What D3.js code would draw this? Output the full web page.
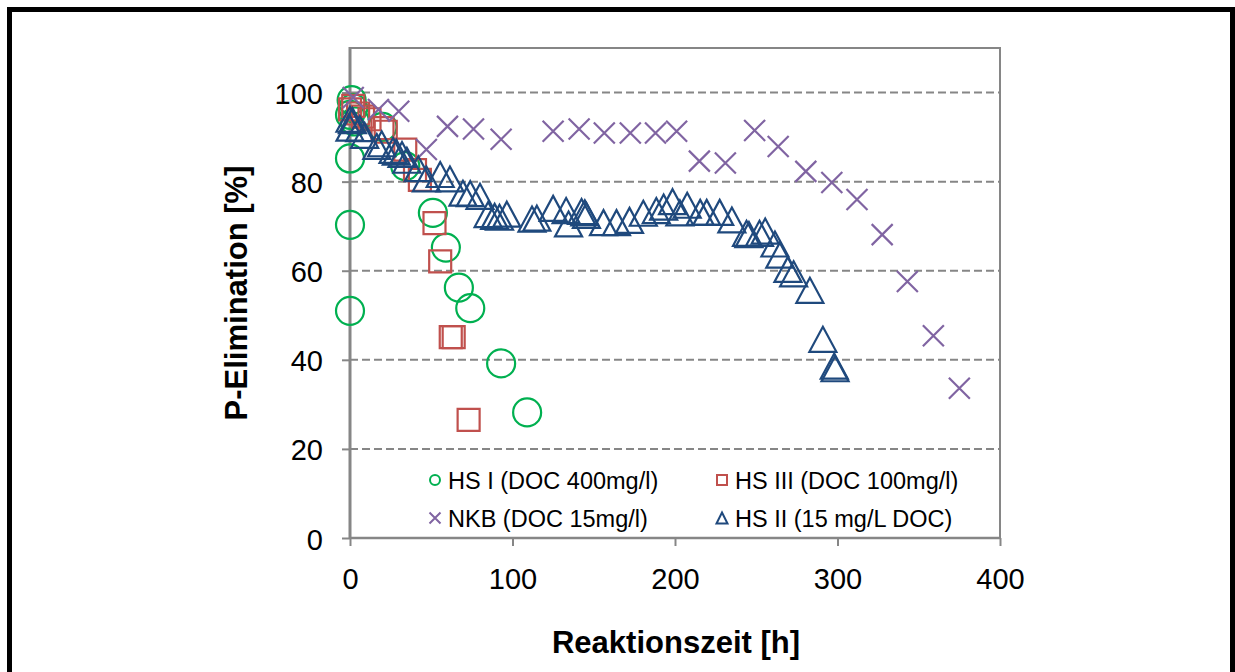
<!DOCTYPE html>
<html><head><meta charset="utf-8">
<script src="https://cdn.jsdelivr.net/npm/d3@7"></script>
<style>
html,body{margin:0;padding:0;background:#fff;}
svg{display:block;font-family:"Liberation Sans",Arial,sans-serif;}
</style></head>
<body>
<svg id="chart" width="1235" height="672"></svg>
<script>
// ---- data ----
const xTicks = [0, 100, 200, 300, 400];
const yTicks = [0, 20, 40, 60, 80, 100];
const xTitle = "Reaktionszeit [h]";
const yTitle = "P-Elimination [%]";
const seriesNames = ["HS I (DOC 400mg/l)", "HS III (DOC 100mg/l)", "NKB (DOC 15mg/l)", "HS II (15 mg/L DOC)"];

const hs1 = [[0,51],[0,70.3],[0,85.2],[0,95],[1,98.3],[2,96.5],[3,93.5],[20,92.3],[34,83.5],[51,73],[59,65.2],[67,56.2],[74,51.6],[93,39.2],[109,28.2]];
const hs3 = [[0,96.2],[2,97],[5,95.3],[8,94.6],[12,94],[20,92],[22,91.2],[34,87.2],[40,82.6],[43,80.4],[52,70.7],[55.5,62.1],[62,45.1],[63.8,45.1],[73,26.5]];
const nkb = [[2,98.9],[17.5,96.2],[30,95.8],[47,87.2],[60,92.4],[76,91.8],[93,89.5],[125,91.3],[141,91.8],[156.5,90.9],[172.5,90.9],[188,90.9],[201,91.3],[215,84.6],[231,84.2],[249,91.5],[263.5,87.9],[280.5,82.3],[296.5,79.8],[312,76],[327.5,68.1],[343,57.6],[359,45.4],[375,33.6]];
const hs2 = [[0,94],[0,92],[1.5,93.7],[6,91.9],[9,90.4],[16.5,87.9],[19.5,88.5],[26.5,87],[28.5,86.6],[32,86.1],[35,84.8],[42,82.9],[47,80.6],[55.5,81.6],[61.5,80.6],[69.5,77.4],[74,77.3],[80,76.7],[85,72.6],[89,72.2],[92,72],[96.5,72.7],[112,71.6],[115,71.8],[125,74],[133,73.5],[134.5,70.5],[142.5,73.3],[144.5,73],[145.5,72.4],[156,70.8],[164,70.8],[172,71.3],[180.5,72.9],[188.5,73.5],[193,74.3],[198.5,75.5],[203,73],[207.5,74.7],[215.5,73.1],[219.5,73.1],[227.5,73.1],[235,71.4],[244,68.4],[245.5,68.1],[252,68.4],[255.5,68.9],[261.5,66],[264.5,63.5],[269.5,60.3],[273,59.3],[283,55.6],[291,44.6],[298,38.6],[298.5,38]];

// ---- layout ----
const svg = d3.select("#chart");
const L = 350, R = 1000, T = 48, B = 538;
const x = d3.scaleLinear().domain([0, 400]).range([L, R]);
const y = d3.scaleLinear().domain([0, 110]).range([B, T]);
const gray = "#868686";
const colors = ["#00B050", "#C0504D", "#8064A2", "#1F497D"];

// outer frame
svg.append("rect").attr("x", 9.5).attr("y", 9.5).attr("width", 1223).attr("height", 720)
  .attr("fill", "none").attr("stroke", "#000").attr("stroke-width", 5);

// gridlines
svg.append("g").selectAll("line").data(yTicks.filter(d => d > 0)).join("line")
  .attr("x1", L).attr("x2", R).attr("y1", d => y(d)).attr("y2", d => y(d))
  .attr("stroke", gray).attr("stroke-width", 2).attr("stroke-dasharray", "8,4");

// plot border (top, right)
svg.append("path").attr("d", `M${L},${T}H${R}V${B}`).attr("fill", "none")
  .attr("stroke", gray).attr("stroke-width", 2);

// axes
const xAxis = svg.append("g").attr("transform", `translate(0,${B})`)
  .call(d3.axisBottom(x).tickValues(xTicks).tickSize(8).tickPadding(22).tickFormat(d3.format("d")));
const yAxis = svg.append("g").attr("transform", `translate(${L},0)`)
  .call(d3.axisLeft(y).tickValues(yTicks).tickSize(8).tickPadding(19).tickFormat(d3.format("d")));
[xAxis, yAxis].forEach(a => {
  a.select(".domain").remove();
  a.selectAll(".tick line").attr("stroke", gray).attr("stroke-width", 2);
  a.selectAll(".tick text").attr("fill", "#000").attr("font-size", 29)
    .attr("font-family", "'Liberation Sans', Arial, sans-serif");
});
yAxis.selectAll(".tick text").attr("dy", "0.38em");
xAxis.selectAll(".tick text").attr("dy", "0.72em");
svg.append("line").attr("x1", L).attr("x2", R).attr("y1", B).attr("y2", B).attr("stroke", gray).attr("stroke-width", 2.5);
svg.append("line").attr("x1", L).attr("x2", L).attr("y1", T - 1).attr("y2", B + 1).attr("stroke", gray).attr("stroke-width", 3);

// axis titles
svg.append("text").attr("x", 676).attr("y", 653).attr("text-anchor", "middle")
  .attr("font-size", 31).attr("font-weight", "bold").text(xTitle);
svg.append("text").attr("transform", `translate(247,${(T + B) / 2}) rotate(-90)`)
  .attr("text-anchor", "middle").attr("font-size", 31).attr("font-weight", "bold").text(yTitle);

// marker shapes
const tri = (w, h) => ({ draw(ctx) { ctx.moveTo(0, -h / 2); ctx.lineTo(w / 2, h / 2); ctx.lineTo(-w / 2, h / 2); ctx.closePath(); } });
const sq = (s) => ({ draw(ctx) { ctx.rect(-s / 2, -s / 2, s, s); } });
const crs = (s) => ({ draw(ctx) { ctx.moveTo(-s, -s); ctx.lineTo(s, s); ctx.moveTo(s, -s); ctx.lineTo(-s, s); } });
const circ = (r) => ({ draw(ctx) { ctx.moveTo(r, 0); ctx.arc(0, 0, r, 0, 2 * Math.PI); } });

const big = [circ(14), sq(22), crs(10.5), tri(27, 25)];
const small = [circ(5), sq(10), crs(5.5), tri(11, 11)];
const all = [hs1, hs3, nkb, hs2];

all.forEach((data, i) => {
  svg.append("g").selectAll("path").data(data).join("path")
    .attr("transform", d => `translate(${x(d[0])},${y(d[1])})`)
    .attr("d", d3.symbol().type(big[i])())
    .attr("fill", "none").attr("stroke", colors[i]).attr("stroke-width", 2.2);
});

// legend
const legPos = [[435, 480], [722, 480], [435, 518], [722, 518]];
seriesNames.forEach((name, i) => {
  const g = svg.append("g").attr("transform", `translate(${legPos[i][0]},${legPos[i][1]})`);
  g.append("path").attr("d", d3.symbol().type(small[i])()).attr("fill", "none")
    .attr("stroke", colors[i]).attr("stroke-width", 2);
  g.append("text").attr("x", 13).attr("dy", "0.37em").attr("font-size", 23.5).attr("fill", "#000").text(name);
});
</script>
</body></html>
